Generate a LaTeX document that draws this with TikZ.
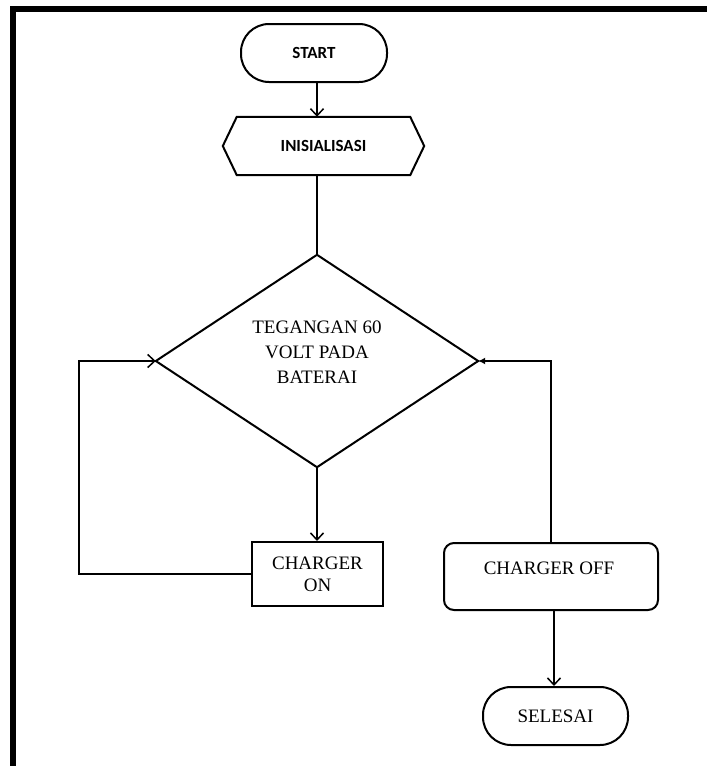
\documentclass[tikz,border=0pt]{standalone}
\usepackage{fontspec}
\setmainfont{Liberation Serif}
\newfontfamily\calfont{Carlito}
\usetikzlibrary{arrows.meta}
\begin{document}
\begin{tikzpicture}[x=1pt,y=-1pt,
  shapebox/.style={draw=black, line width=2pt, inner sep=0pt},
  plain/.style={inner sep=0pt},
  conn/.style={draw=black, line width=1.8pt},
  arr/.style={conn, -{Straight Barb[length=7pt,width=13pt,line width=1.5pt]}},
  arrf/.style={conn, -{Latex[length=7pt,width=7pt]}},
  sanslbl/.style={font=\calfont\bfseries\fontsize{17}{20}\selectfont, text=black},
  seriflbl/.style={font=\fontsize{19}{22}\selectfont, text=black, align=center}]
\useasboundingbox (0,0) rectangle (707,766);
% frame
\fill[black] (10,6) rectangle (707,11.5);
\fill[black] (10,6) rectangle (16,766);
% START
\node[shapebox, rounded corners=28pt, minimum width=146pt, minimum height=58pt, sanslbl] (start) at (314,53) {START};
% INISIALISASI (hexagon)
\node[plain, minimum width=201pt, minimum height=58pt, sanslbl] (init) at (323.5,146) {INISIALISASI};
\draw[draw=black, line width=2pt, line join=miter] (init.west) -- ([xshift=14pt]init.north west) -- ([xshift=-14pt]init.north east) -- (init.east) -- ([xshift=-14pt]init.south east) -- ([xshift=14pt]init.south west) -- cycle;
% decision
\node[plain, minimum width=322pt, minimum height=212pt] (dia) at (317,361) {};
\draw[draw=black, line width=2pt, line join=miter] (dia.north) -- (dia.east) -- (dia.south) -- (dia.west) -- cycle;
\node[plain, seriflbl, font=\fontsize{19}{25}\selectfont] (diatext) at (317,352) {TEGANGAN 60\\VOLT PADA\\BATERAI};
% CHARGER ON
\node[shapebox, minimum width=131pt, minimum height=64pt, seriflbl] (on) at (317.5,574) {CHARGER\\ON};
% CHARGER OFF
\node[shapebox, rounded corners=10pt, minimum width=214pt, minimum height=67pt] (off) at (551,576.5) {};
\node[plain, seriflbl] (offtext) at (549,568) {CHARGER OFF};
% SELESAI
\node[shapebox, rounded corners=28pt, minimum width=145pt, minimum height=58pt, seriflbl] (sel) at (555.5,716) {SELESAI};
% connectors
\coordinate (lc) at (79,450);
\draw[arr] (start.south -| dia.north) -- (init.north -| dia.north);
\draw[conn] (init.south -| dia.north) -- (dia.north);
\draw[arr] (dia.south) -- (on.north -| dia.south);
\draw[arr] (on.west) -| (lc) |- (dia.west);
\draw[arrf] (off.north) |- (dia.east);
\draw[arr] ([xshift=3pt]off.south) -- ([xshift=3pt]off.south |- sel.north);
\end{tikzpicture}
\end{document}
